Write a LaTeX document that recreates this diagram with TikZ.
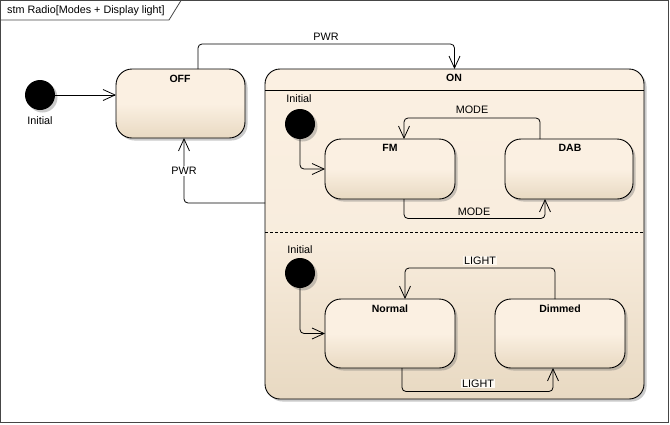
\documentclass[tikz,border=0pt]{standalone}
\usepackage{fontspec}
\setmainfont{Liberation Sans}
\usetikzlibrary{arrows.meta,shadows,calc}
\definecolor{cTop}{RGB}{251,240,226}
\definecolor{cBot}{RGB}{232,217,194}
\definecolor{frameC}{RGB}{70,70,70}
\begin{document}
\begin{tikzpicture}[x=1pt,y=-1pt,
  font=\fontsize{10.8}{12}\selectfont,
  shad/.style={drop shadow={shadow xshift=2.5pt,shadow yshift=-2.5pt,fill=black!60,opacity=0.35}},
  stbox/.style={draw=black, line width=0.9pt, rounded corners=16pt, top color=cTop, bottom color=cBot, middle color=cTop, shad, inner sep=0pt, outer sep=0pt},
  initst/.style={circle, fill=black, minimum size=30pt, inner sep=0pt, outer sep=0pt, shad},
  ttl/.style={font=\fontsize{10.5}{12}\selectfont\bfseries, inner sep=0pt},
  lbl/.style={inner sep=1pt},
  tr/.style={draw=black, line width=0.8pt, rounded corners=4pt, -{Straight Barb[length=12pt,width=11pt,line width=0.8pt]}}
]
\useasboundingbox (0,0) rectangle (670,424);
% frame
\node[draw=frameC, line width=0.8pt, minimum width=668pt, minimum height=422pt, inner sep=0pt, outer sep=0pt, anchor=north west] (frame) at (0.5,0.5) {};
\draw[frameC, line width=0.8pt] (frame.north west |- 0,20) -- (169,20) -- (181,0.5);
\node[anchor=west, inner sep=0pt] (ftitle) at (7,10.5) {stm Radio[Modes + Display light]};

% top level
\node[initst] (i0) at (40,95) {};
\node[lbl] (i0l) at (40,120.5) {Initial};
\node[stbox, minimum width=129pt, minimum height=69pt] (off) at (180.5,103.5) {};
\node[ttl] (offt) at (180,79) {OFF};

\node[stbox, rounded corners=15pt, minimum width=379pt, minimum height=330pt, middle color=cTop!85!cBot] (on) at (454.5,234) {};
\node[ttl] (ont) at (454,78) {ON};
\draw[line width=0.8pt] ($(on.north west)+(0,21)$) -- ($(on.north east)+(0,21)$);
\draw[line width=0.6pt, dashed, dash pattern=on 3pt off 2pt] ($(on.west)+(0,-2)$) -- ($(on.east)+(0,-2)$);

% region 1
\node[initst] (i1) at (300,124) {};
\node[lbl] (i1l) at (299,99) {Initial};
\node[stbox, minimum width=130pt, minimum height=60pt] (fm) at (390,169) {};
\node[ttl] (fmt) at (390,148) {FM};
\node[stbox, minimum width=128pt, minimum height=60pt] (dab) at (569,169) {};
\node[ttl] (dabt) at (570,148) {DAB};

% region 2
\node[initst] (i2) at (300,273) {};
\node[lbl] (i2l) at (300,249.5) {Initial};
\node[stbox, minimum width=130pt, minimum height=69pt] (nor) at (390,333.5) {};
\node[ttl] (nort) at (390,309) {Normal};
\node[stbox, minimum width=130pt, minimum height=69pt] (dim) at (560,333.5) {};
\node[ttl] (dimt) at (560,309) {Dimmed};

% transitions
\draw[tr] (i0) -- (off.west |- i0);
\draw[tr] ($(off.north)+(17.5,0)$) -- ++(0,-25) -| (on.north);
\node[lbl] (pwr1) at (326,37) {PWR};
\draw[tr] ($(on.west)+(0,-31)$) -| ($(off.south)+(3.5,0)$);
\node[lbl, fill=white] (pwr2) at (184,171) {PWR};

\draw[tr] (i1.south) |- (fm.west);
\draw[tr] ($(dab.north)+(-29,0)$) -- ++(0,-21) -| ($(fm.north)+(14,0)$);
\node[lbl] (m1) at (472,110) {MODE};
\draw[tr] ($(fm.south)+(14,0)$) -- ++(0,19.5) -| ($(dab.south)+(-24,0)$);
\node[lbl] (m2) at (474,212) {MODE};

\draw[tr] (i2.south) |- (nor.west);
\draw[tr] ($(dim.north)+(-5,0)$) -- ++(0,-31) -| ($(nor.north)+(15,0)$);
\node[lbl, fill=cTop!50!white] (l1) at (480,260.5) {LIGHT};
\draw[tr] ($(nor.south)+(12,0)$) -- ++(0,23.5) -| ($(dim.south)+(-7,0)$);
\node[lbl, fill=cTop!40!white] (l2) at (478,383.5) {LIGHT};
\end{tikzpicture}
\end{document}
